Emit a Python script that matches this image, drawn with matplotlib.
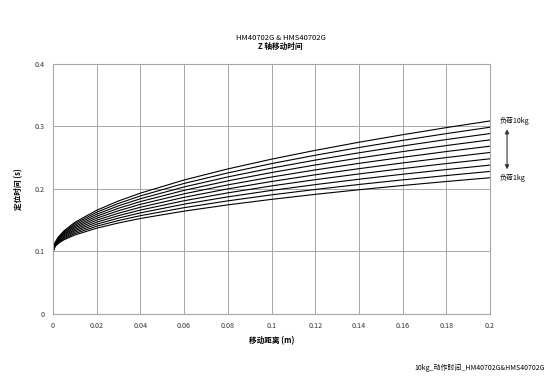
import matplotlib
matplotlib.use('Agg')
import matplotlib.pyplot as plt

plt.rcParams['font.family'] = ['Noto Sans CJK SC', 'DejaVu Sans']

# travel distance (m)
distance = [0, 0.001, 0.0025, 0.005, 0.01, 0.02, 0.03, 0.04, 0.06, 0.08,
            0.1, 0.12, 0.14, 0.16, 0.18, 0.2]

# positioning time (s), one list per load 1kg .. 10kg
time_1kg = [0.1, 0.1083, 0.1132, 0.1187, 0.1264, 0.1373, 0.1457, 0.1528, 0.1646, 0.1746,
            0.1834, 0.1914, 0.1988, 0.2056, 0.2120, 0.2180]
time_2kg = [0.1, 0.1091, 0.1143, 0.1202, 0.1286, 0.1405, 0.1496, 0.1573, 0.1701, 0.1810,
            0.1906, 0.1992, 0.2072, 0.2146, 0.2215, 0.2281]
time_3kg = [0.1, 0.1098, 0.1155, 0.1218, 0.1309, 0.1437, 0.1535, 0.1618, 0.1757, 0.1874,
            0.1977, 0.2070, 0.2156, 0.2236, 0.2311, 0.2382]
time_4kg = [0.1, 0.1105, 0.1166, 0.1234, 0.1332, 0.1469, 0.1574, 0.1663, 0.1812, 0.1938,
            0.2049, 0.2149, 0.2241, 0.2326, 0.2407, 0.2483]
time_5kg = [0.1, 0.1112, 0.1177, 0.1250, 0.1354, 0.1501, 0.1613, 0.1708, 0.1867, 0.2002,
            0.2120, 0.2227, 0.2325, 0.2417, 0.2503, 0.2584]
time_6kg = [0.1, 0.1119, 0.1188, 0.1266, 0.1377, 0.1533, 0.1653, 0.1754, 0.1923, 0.2066,
            0.2191, 0.2305, 0.2410, 0.2507, 0.2599, 0.2685]
time_7kg = [0.1, 0.1126, 0.1200, 0.1282, 0.1399, 0.1565, 0.1692, 0.1799, 0.1978, 0.2130,
            0.2263, 0.2384, 0.2495, 0.2598, 0.2695, 0.2786]
time_8kg = [0.1, 0.1133, 0.1211, 0.1298, 0.1422, 0.1597, 0.1731, 0.1844, 0.2033, 0.2193,
            0.2334, 0.2462, 0.2579, 0.2688, 0.2791, 0.2887]
time_9kg = [0.1, 0.1140, 0.1222, 0.1314, 0.1445, 0.1629, 0.1770, 0.1889, 0.2089, 0.2257,
            0.2406, 0.2540, 0.2663, 0.2778, 0.2886, 0.2988]
time_10kg = [0.1, 0.1148, 0.1234, 0.1330, 0.1467, 0.1660, 0.1809, 0.1934, 0.2144, 0.2321,
             0.2477, 0.2618, 0.2748, 0.2868, 0.2982, 0.3089]

series = [time_1kg, time_2kg, time_3kg, time_4kg, time_5kg,
          time_6kg, time_7kg, time_8kg, time_9kg, time_10kg]

x_ticks = [0, 0.02, 0.04, 0.06, 0.08, 0.1, 0.12, 0.14, 0.16, 0.18, 0.2]
x_ticklabels = ['0', '0.02', '0.04', '0.06', '0.08', '0.1', '0.12', '0.14', '0.16', '0.18', '0.2']
y_ticks = [0, 0.1, 0.2, 0.3, 0.4]
y_ticklabels = ['0', '0.1', '0.2', '0.3', '0.4']

fig = plt.figure(figsize=(5.5, 3.83), dpi=100)
ax = fig.add_axes([0.0964, 0.1802, 0.7945, 0.6527])

for t in series:
    ax.plot(distance, t, color='black', lw=0.8)

ax.set_xlim(0, 0.2)
ax.set_ylim(0, 0.4)
ax.set_xticks(x_ticks)
ax.set_xticklabels(x_ticklabels)
ax.set_yticks(y_ticks)
ax.set_yticklabels(y_ticklabels)
ax.tick_params(length=0, labelsize=5.2, colors='#333333', pad=6)
ax.grid(True, color='#a6a6a6', lw=0.7)
for s in ax.spines.values():
    s.set_color('#a6a6a6')
    s.set_linewidth(0.8)

ax.set_xlabel('移动距离 (m)', fontsize=5.5, fontweight='bold', labelpad=4)
ax.set_ylabel('定位时间 (s)', fontsize=5.5, fontweight='bold', labelpad=8)

fig.text(0.51, 0.895, 'HM40702G & HMS40702G', ha='center', fontsize=5.5)
fig.text(0.51, 0.872, 'Z 轴移动时间', ha='center', fontsize=5.5, fontweight='bold')

ax.text(0.2045, time_10kg[-1], '负荷10kg', fontsize=5, va='center', ha='left')
ax.text(0.2045, time_1kg[-1], '负荷1kg', fontsize=5, va='center', ha='left')
ax.annotate('', xy=(0.2078, 0.300), xytext=(0.2078, 0.227),
            arrowprops=dict(arrowstyle='<|-|>', color='#333333', lw=0.8,
                            mutation_scale=6), annotation_clip=False)

fig.text(0.99, 0.035, '10kg_动作时间_HM40702G&HMS40702G', ha='right', fontsize=5)

fig.savefig('out.png', dpi=100)
